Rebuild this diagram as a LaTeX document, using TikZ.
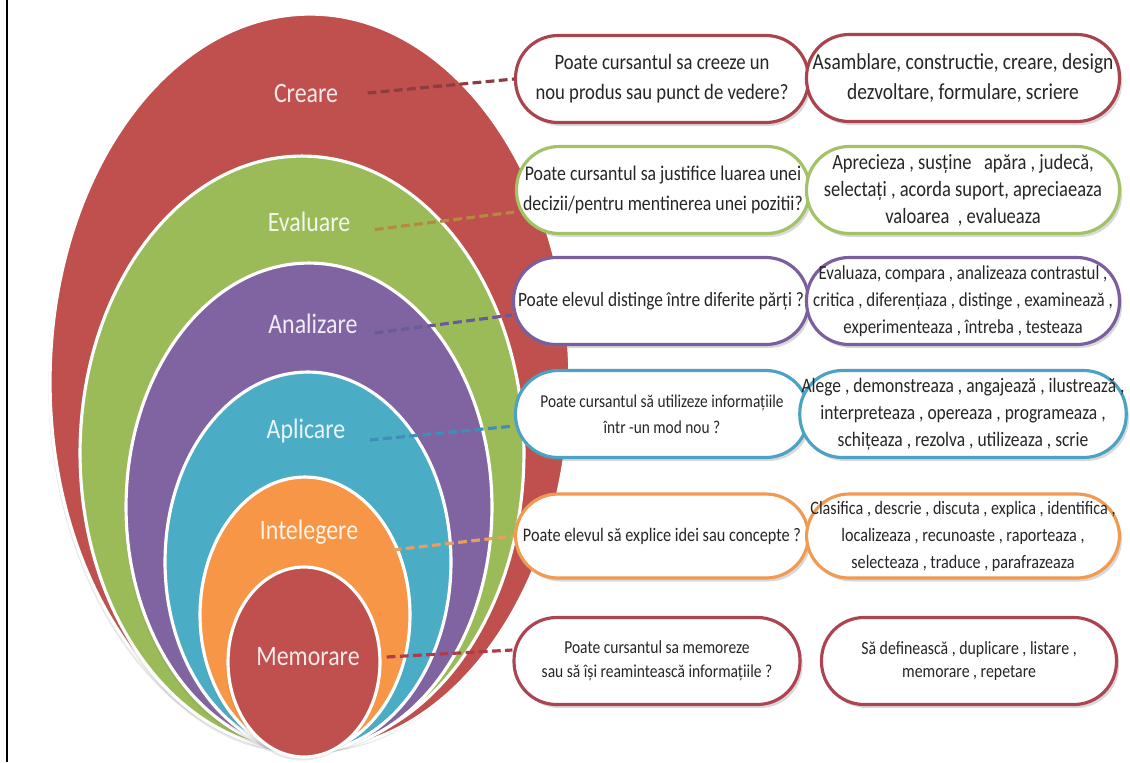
\documentclass[tikz,border=0pt]{standalone}
\usepackage{fontspec}
\newfontfamily\cfont[FakeStretch=0.85]{Carlito}
\usetikzlibrary{shadows}

\definecolor{crearecol}{HTML}{C0504D}
\definecolor{evalcol}{HTML}{9BBB59}
\definecolor{analizcol}{HTML}{8064A2}
\definecolor{aplicol}{HTML}{4BACC6}
\definecolor{intelcol}{HTML}{F79646}
\definecolor{memocol}{HTML}{C0504D}

\definecolor{creareline}{HTML}{A9434E}
\definecolor{evalline}{HTML}{A3C266}
\definecolor{analizline}{HTML}{7A5E9E}
\definecolor{apliline}{HTML}{4CA2C2}
\definecolor{intelline}{HTML}{F09A52}
\definecolor{memoline}{HTML}{AD4452}

\definecolor{crearedash}{HTML}{8E3C42}
\definecolor{evaldash}{HTML}{B5893E}
\definecolor{analizdash}{HTML}{6A5A98}
\definecolor{aplidash}{HTML}{3E8FB8}
\definecolor{inteldash}{HTML}{E89E5E}
\definecolor{memodash}{HTML}{B03A4A}

\tikzset{
  ring/.style={fill=#1, draw=white, line width=1.8pt,
    drop shadow={opacity=0.18, shadow xshift=-1pt, shadow yshift=-2pt}},
  lvl/.style={text=white!88!#1, inner sep=1pt,
    font=\cfont\fontsize{16}{18}\selectfont},
  qbox/.style={draw=#1, line width=1.8pt, fill=white, rounded corners=0.85cm,
    align=center, text=black!85, inner sep=1pt, minimum height=1.74cm,
    font=\cfont\fontsize{12.5}{17}\selectfont,
    drop shadow={opacity=0.3, shadow xshift=1.5pt, shadow yshift=-2pt}},
  abox/.style={qbox=#1, font=\cfont\fontsize{11}{15.6}\selectfont},
  link/.style={draw=#1, line width=1.8pt, dash pattern=on 5pt off 2.5pt},
}

\begin{document}
\begin{tikzpicture}[x=0.02cm, y=-0.02cm]
  \useasboundingbox (0,0) rectangle (1130,762);
  \draw[line width=1.2pt] (7,0) -- (7,762);

  % nested levels
  \draw[ring=crearecol] (310,382) ellipse [x radius=5.2cm, y radius=7.36cm];
  \draw[ring=evalcol]   (302,453) ellipse [x radius=4.44cm, y radius=5.94cm];
  \draw[ring=analizcol] (309,507) ellipse [x radius=3.66cm, y radius=4.88cm];
  \draw[ring=aplicol]   (308,562) ellipse [x radius=2.86cm, y radius=3.8cm];
  \draw[ring=intelcol]  (305,615) ellipse [x radius=2.1cm, y radius=2.76cm];
  \draw[ring=memocol]   (304,662) ellipse [x radius=1.52cm, y radius=1.9cm];

  \node[lvl=crearecol] (creare)  at (306,93)  {Creare};
  \node[lvl=evalcol]   (evaluare) at (309,222) {Evaluare};
  \node[lvl=analizcol] (analizare) at (313,324) {Analizare};
  \node[lvl=aplicol]   (aplicare) at (306,431) {Aplicare};
  \node[lvl=intelcol]  (intelegere) at (309,532) {Intelegere};
  \node[lvl=memocol]   (memorare) at (308,657) {Memorare};

  % questions
  \node[qbox=creareline, minimum width=5.86cm] (qcreare) at (662,79)
    {Poate cursantul sa creeze un\\nou produs sau punct de vedere?};
  \node[qbox=evalline, minimum width=5.86cm, font=\cfont\fontsize{11.9}{17}\selectfont] (qevaluare) at (663,190)
    {Poate cursantul sa justifice luarea unei\\decizii/pentru mentinerea unei pozitii?};
  \node[qbox=analizline, minimum width=5.9cm, font=\cfont\fontsize{11.6}{17}\selectfont] (qanalizare) at (661,301)
    {Poate elevul distinge între diferite părți ?};
  \node[qbox=apliline, minimum width=5.86cm, font=\cfont\fontsize{10.3}{14.8}\selectfont] (qaplicare) at (662,414)
    {Poate cursantul să utilizeze informațiile\\într -un mod nou ?};
  \node[qbox=intelline, minimum width=5.86cm, minimum height=1.68cm, font=\cfont\fontsize{10.9}{15}\selectfont] (qintelegere) at (662,536)
    {Poate elevul să explice idei sau concepte ?};
  \node[qbox=memoline, minimum width=5.72cm, font=\cfont\fontsize{10.4}{13.5}\selectfont] (qmemorare) at (657,661)
    {Poate cursantul sa memoreze\\sau să își reamintească informațiile ?};

  % verbs
  \node[abox=creareline, minimum width=6.26cm, font=\cfont\fontsize{13}{17.5}\selectfont] (acreare) at (963,78)
    {Asamblare, constructie, creare, design\\dezvoltare, formulare, scriere};
  \node[abox=evalline, minimum width=6.26cm, font=\cfont\fontsize{12.4}{15.4}\selectfont] (aevaluare) at (963,190)
    {Aprecieza , susține~~ apăra , judecă,\\selectați , acorda suport, apreciaeaza\\valoarea~ , evalueaza};
  \node[abox=analizline, minimum width=6.26cm, font=\cfont\fontsize{11.3}{15.4}\selectfont] (aanalizare) at (963,301)
    {Evaluaza, compara , analizeaza contrastul ,\\critica , diferențiaza , distinge , examinează ,\\experimenteaza , întreba , testeaza};
  \node[abox=apliline, minimum width=6.26cm, font=\cfont\fontsize{11.7}{15.4}\selectfont] (aaplicare) at (963,414)
    {Alege , demonstreaza , angajează , ilustrează ,\\interpreteaza , opereaza , programeaza ,\\schițeaza , rezolva , utilizeaza , scrie};
  \node[abox=intelline, minimum width=6.26cm, minimum height=1.68cm, font=\cfont\fontsize{10.8}{15.4}\selectfont] (aintelegere) at (963,536)
    {Clasifica , descrie , discuta , explica , identifica ,\\localizeaza , recunoaste , raporteaza ,\\selecteaza , traduce , parafrazeaza};
  \node[abox=memoline, minimum width=5.9cm, font=\cfont\fontsize{10.6}{13.5}\selectfont] (amemorare) at (969,661)
    {Să definească , duplicare , listare ,\\memorare , repetare};

  \draw[link=crearedash] ([xshift=0.55cm]creare.east) -- (qcreare.west);
  \draw[link=evaldash] ([xshift=0.45cm,yshift=-0.15cm]evaluare.east) -- ([yshift=-0.44cm]qevaluare.west);
  \draw[link=analizdash] ([xshift=0.3cm,yshift=-0.18cm]analizare.east) -- ([yshift=-0.28cm]qanalizare.west);
  \draw[link=aplidash] ([xshift=0.45cm,yshift=-0.18cm]aplicare.east) -- ([yshift=-0.24cm]qaplicare.west);
  \draw[link=inteldash] ([xshift=0.65cm,yshift=-0.36cm]intelegere.east) -- (qintelegere.west);
  \draw[link=memodash] ([xshift=0.5cm]memorare.east) -- ([yshift=0.22cm]qmemorare.west);
\end{tikzpicture}
\end{document}
